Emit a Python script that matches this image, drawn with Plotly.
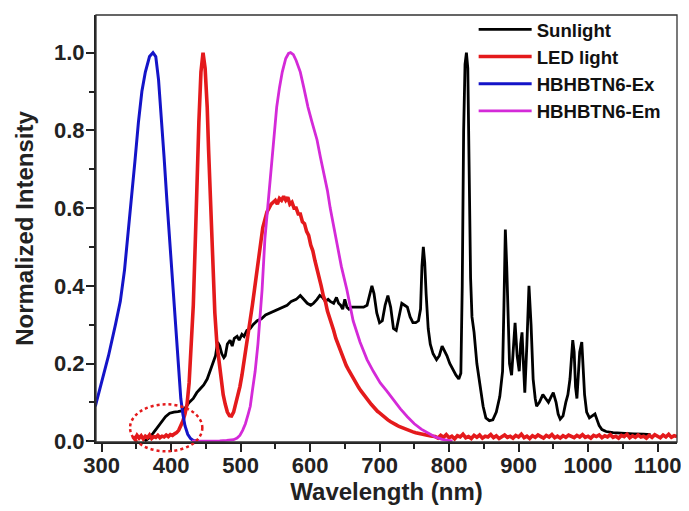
import plotly.graph_objects as go

# ---------------- data ----------------
sun_x = [362, 368, 374, 380, 386, 392, 398, 404, 410, 415, 420, 426, 432, 437, 442, 447, 452, 456, 461, 464,
         467, 470, 473, 476, 478, 481, 485, 488, 491, 495, 498, 502, 505, 509, 514, 518, 524, 530, 536, 542,
         548, 555, 561, 567, 573, 580, 586, 591, 596, 601, 605, 610, 614, 618, 622, 626, 629, 634, 638, 641,
         644, 647, 650, 653, 656, 660, 666, 672, 677, 682, 686, 689, 692, 696, 700, 704, 708, 712, 716, 720,
         724, 728, 732, 736, 740, 744, 748, 752, 756, 759, 761, 763, 765, 767, 770, 773, 777, 782, 786, 790,
         793, 797, 801, 805, 810, 814, 817, 819, 821, 823, 825, 827, 829, 831, 833, 836, 840, 845, 849, 853,
         858, 863, 868, 873, 877, 879, 881, 883, 885, 887, 890, 893, 895, 898, 901, 903, 905, 907, 909, 912,
         915, 918, 921, 924, 926, 930, 935, 939, 943, 947, 950, 954, 957, 960, 964, 968, 971, 974, 976, 978,
         980, 982, 984, 986, 988, 991, 993, 995, 998, 1002, 1006, 1010, 1013, 1016, 1020, 1026, 1036, 1050, 1065, 1080,
         1090]
sun_y = [0.0, 0.008, 0.02, 0.035, 0.05, 0.063, 0.072, 0.075, 0.076, 0.078, 0.085, 0.1, 0.11, 0.125, 0.135, 0.145, 0.16, 0.18, 0.2, 0.22,
         0.255, 0.245, 0.225, 0.215, 0.22, 0.25, 0.26, 0.245, 0.265, 0.27, 0.26, 0.275, 0.27, 0.285, 0.29, 0.3, 0.31, 0.315, 0.325, 0.33,
         0.335, 0.34, 0.345, 0.35, 0.36, 0.365, 0.375, 0.365, 0.355, 0.35, 0.355, 0.365, 0.375, 0.37, 0.36, 0.365, 0.36, 0.355, 0.37, 0.355,
         0.35, 0.34, 0.365, 0.345, 0.34, 0.345, 0.345, 0.345, 0.345, 0.35, 0.38, 0.40, 0.38, 0.33, 0.305, 0.31, 0.35, 0.375, 0.345, 0.29,
         0.285, 0.32, 0.355, 0.35, 0.345, 0.32, 0.305, 0.305, 0.31, 0.34, 0.45, 0.50, 0.46, 0.38, 0.29, 0.25, 0.225, 0.21, 0.22, 0.245,
         0.235, 0.22, 0.2, 0.185, 0.17, 0.16, 0.175, 0.4, 0.8, 0.97, 1.0, 0.96, 0.7, 0.42, 0.32, 0.28, 0.2, 0.14, 0.09, 0.06,
         0.053, 0.055, 0.075, 0.115, 0.18, 0.35, 0.545, 0.45, 0.29, 0.2, 0.17, 0.25, 0.305, 0.22, 0.18, 0.25, 0.28, 0.2, 0.125, 0.25,
         0.40, 0.3, 0.16, 0.11, 0.09, 0.1, 0.12, 0.11, 0.10, 0.115, 0.125, 0.1, 0.07, 0.057, 0.065, 0.1, 0.12, 0.16, 0.22, 0.26,
         0.23, 0.14, 0.11, 0.16, 0.23, 0.255, 0.2, 0.12, 0.075, 0.06, 0.065, 0.07, 0.055, 0.04, 0.03, 0.025, 0.022, 0.02, 0.019, 0.018,
         0.017]

led_x = [345, 348, 351, 354, 357, 360, 363, 366, 369, 372, 375, 378, 381, 384, 387, 390, 393, 396, 399, 402,
         405, 408, 411, 414, 417, 420, 423, 426, 429, 432, 435, 437, 440, 443, 446, 449, 452, 454, 456, 458,
         460, 463, 466, 469, 472, 475, 478, 481, 484, 487, 490, 493, 496, 499, 502, 505, 508, 511, 514, 517,
         520, 523, 526, 529, 532, 535, 538, 541, 544, 547, 550, 553, 556, 559, 562, 565, 568, 571, 574, 577,
         580, 583, 586, 589, 592, 595, 598, 601, 604, 607, 610, 613, 616, 619, 622, 625, 628, 631, 634, 637,
         640, 643, 646, 649, 652, 655, 658, 661, 664, 667, 670, 673, 676, 679, 682, 685, 688, 691, 694, 697,
         700, 704, 708, 712, 716, 720, 724, 728, 732, 736, 740, 744, 748, 752, 756, 760, 764, 768, 772, 776,
         780, 784, 788, 792, 796, 800, 804, 808, 812, 816, 820, 824, 828, 832, 836, 840, 844, 848, 852, 856,
         860, 864, 868, 872, 876, 880, 884, 888, 892, 896, 900, 904, 908, 912, 916, 920, 924, 928, 932, 936,
         940, 944, 948, 952, 956, 960, 964, 968, 972, 976, 980, 984, 988, 992, 996, 1000, 1004, 1008, 1012, 1016,
         1020, 1024, 1028, 1032, 1036, 1040, 1044, 1048, 1052, 1056, 1060, 1064, 1068, 1072, 1076, 1080, 1084, 1088, 1092, 1096,
         1100, 1104, 1108, 1112, 1116, 1120, 1124, 1128]
led_y = [0.012, 0.005, 0.015, 0.008, 0.014, 0.006, 0.013, 0.009, 0.016, 0.007, 0.012, 0.010, 0.015, 0.009, 0.013, 0.011, 0.016, 0.012, 0.017, 0.015,
         0.019, 0.022, 0.028, 0.038, 0.052, 0.07, 0.095, 0.15, 0.24, 0.35, 0.52, 0.66, 0.82, 0.95, 1.0, 0.96, 0.86, 0.75, 0.66, 0.53,
         0.43, 0.33, 0.25, 0.2, 0.155, 0.12, 0.095, 0.075, 0.066, 0.065, 0.075, 0.095, 0.115, 0.14, 0.17, 0.205, 0.24, 0.27, 0.31, 0.35,
         0.39, 0.43, 0.47, 0.51, 0.55, 0.57, 0.59, 0.60, 0.61, 0.615, 0.62, 0.61, 0.625, 0.62, 0.63, 0.62, 0.628, 0.61, 0.615, 0.60,
         0.60, 0.585, 0.585, 0.565, 0.56, 0.54, 0.53, 0.505, 0.49, 0.465, 0.445, 0.42, 0.40, 0.375, 0.36, 0.335, 0.32, 0.30, 0.285, 0.265,
         0.25, 0.235, 0.225, 0.21, 0.195, 0.185, 0.175, 0.165, 0.155, 0.148, 0.138, 0.13, 0.122, 0.115, 0.107, 0.102, 0.095, 0.088, 0.083, 0.077,
         0.073, 0.066, 0.06, 0.055, 0.05, 0.045, 0.042, 0.038, 0.035, 0.031, 0.029, 0.026, 0.024, 0.022, 0.020, 0.018, 0.017, 0.015, 0.014, 0.013,
         0.012, 0.008, 0.015, 0.010, 0.017, 0.009, 0.013, 0.006, 0.014, 0.011, 0.018, 0.009, 0.012, 0.007, 0.015, 0.010, 0.016, 0.008, 0.013, 0.011,
         0.017, 0.009, 0.014, 0.007, 0.012, 0.016, 0.010, 0.013, 0.008, 0.015, 0.011, 0.018, 0.009, 0.013, 0.007, 0.014, 0.010, 0.016, 0.012, 0.008,
         0.015, 0.011, 0.017, 0.009, 0.013, 0.008, 0.014, 0.010, 0.016, 0.012, 0.009, 0.015, 0.011, 0.017, 0.010, 0.013, 0.008, 0.015, 0.012, 0.016,
         0.009, 0.014, 0.011, 0.017, 0.010, 0.013, 0.008, 0.015, 0.012, 0.018, 0.009, 0.014, 0.010, 0.016, 0.011, 0.013, 0.008, 0.015, 0.010, 0.017,
         0.012, 0.009, 0.016, 0.011, 0.018, 0.010, 0.014, 0.012]

ex_x = [291, 300, 310, 320, 327, 333, 338, 343, 348, 353, 358, 363, 369, 374, 378, 382, 386, 390, 394, 398,
        402, 405, 408, 411, 414, 417, 420, 424, 428, 432, 440]
ex_y = [0.09, 0.15, 0.22, 0.30, 0.36, 0.44, 0.53, 0.62, 0.72, 0.82, 0.90, 0.95, 0.99, 1.0, 0.99, 0.93, 0.84, 0.73, 0.62, 0.52,
        0.42, 0.33, 0.25, 0.17, 0.11, 0.07, 0.04, 0.018, 0.007, 0.002, 0.0]

em_x = [430, 450, 470, 480, 490, 495, 499, 503, 507, 511, 514, 517, 521, 525, 528, 531, 535, 539, 543, 547,
        552, 556, 560, 565, 569, 572, 576, 580, 586, 591, 597, 603, 610, 615, 620, 625, 629, 634, 638, 645,
        653, 662, 672, 682, 691, 701, 710, 720, 730, 740, 750, 760, 770, 780, 790, 800, 805]
em_y = [0.0, 0.0, 0.001, 0.002, 0.004, 0.008, 0.015, 0.028, 0.045, 0.07, 0.09, 0.13, 0.18, 0.25, 0.31, 0.39, 0.52, 0.60, 0.69, 0.776,
        0.86, 0.91, 0.95, 0.985, 0.998, 1.0, 0.995, 0.98, 0.95, 0.91, 0.86, 0.82, 0.776, 0.73, 0.69, 0.645, 0.60, 0.555, 0.52, 0.45,
        0.39, 0.31, 0.255, 0.21, 0.18, 0.15, 0.13, 0.105, 0.083, 0.063, 0.045, 0.031, 0.02, 0.011, 0.005, 0.002, 0.0]

x_ticks = [300, 400, 500, 600, 700, 800, 900, 1000, 1100]
y_ticks = [0.0, 0.2, 0.4, 0.6, 0.8, 1.0]
x_range = [292, 1128]
y_range = [-0.002, 1.097]
circle_x = [341, 445]
circle_y = [-0.026, 0.095]

# ---------------- figure ----------------
FONT = "Arial, Liberation Sans, sans-serif"
fig = go.Figure()
fig.add_trace(go.Scatter(x=sun_x, y=sun_y, mode="lines", name="Sunlight",
                         line=dict(color="#000000", width=2.8)))
fig.add_trace(go.Scatter(x=led_x, y=led_y, mode="lines", name="LED light",
                         line=dict(color="#e41a1c", width=3.6)))
fig.add_trace(go.Scatter(x=ex_x, y=ex_y, mode="lines", name="HBHBTN6-Ex",
                         line=dict(color="#1414c8", width=3)))
fig.add_trace(go.Scatter(x=em_x, y=em_y, mode="lines", name="HBHBTN6-Em",
                         line=dict(color="#d42ad8", width=2.8)))

def to_paper_y(v):
    return (v - y_range[0]) / (y_range[1] - y_range[0])

fig.add_shape(type="circle", xref="x", yref="paper",
              x0=circle_x[0], x1=circle_x[1],
              y0=to_paper_y(circle_y[0]), y1=to_paper_y(circle_y[1]),
              line=dict(color="#e41a1c", width=2.5, dash="dot"))
# frame (top/right thin)
fig.add_shape(type="rect", xref="paper", yref="paper", x0=0, x1=1, y0=0, y1=1,
              line=dict(color="#333333", width=1.3), layer="above")

axis_common = dict(showline=True, linecolor="#222222", linewidth=2, mirror=False,
                   ticks="outside", ticklen=8, tickwidth=2, tickcolor="#222222",
                   showgrid=False, zeroline=False, automargin=False,
                   tickfont=dict(family=FONT, size=22, color="#222222", weight="bold"))
fig.update_xaxes(range=x_range, tickvals=x_ticks, ticktext=[str(v) for v in x_ticks],
                 ticklabelstandoff=-5,
                 minor=dict(dtick=50, ticks="outside", ticklen=5, tickwidth=2, tickcolor="#222222"),
                 title=dict(text="Wavelength (nm)", standoff=3,
                            font=dict(family=FONT, size=24, color="#222222", weight="bold")),
                 **axis_common)
fig.update_yaxes(range=y_range, tickvals=y_ticks, ticktext=["%.1f" % v for v in y_ticks],
                 ticklabelstandoff=-3,
                 minor=dict(dtick=0.1, ticks="outside", ticklen=5, tickwidth=2, tickcolor="#222222"),
                 title=dict(text="Normalized Intensity", standoff=14,
                            font=dict(family=FONT, size=24, color="#222222", weight="bold")),
                 **axis_common)

fig.update_layout(
    width=681, height=503,
    margin=dict(l=88, r=12, t=7, b=69, autoexpand=False),
    paper_bgcolor="white", plot_bgcolor="white",
    showlegend=True,
    legend=dict(x=0.650, y=1.01, xanchor="left", yanchor="top",
                bgcolor="rgba(0,0,0,0)", borderwidth=0, itemwidth=53,
                font=dict(family=FONT, size=18.6, color="#111111", weight="bold"),
                tracegroupgap=0),
)

fig.write_html("out.html")
